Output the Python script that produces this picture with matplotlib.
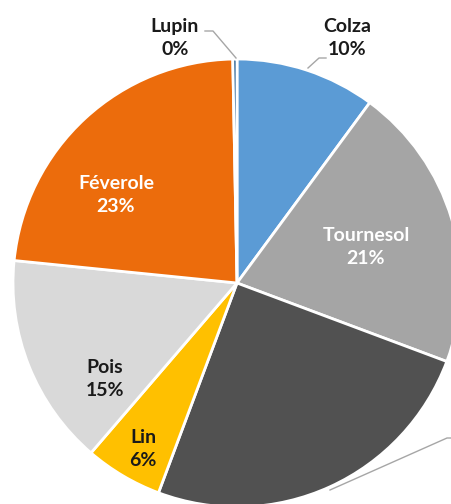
import matplotlib.pyplot as plt

# Data
cultures = ['Colza', 'Tournesol', 'Soja', 'Lin', 'Pois', 'Féverole', 'Lupin']
parts = [10.1, 20.6, 25.0, 5.6, 15.3, 23.1, 0.3]
couleurs = ['#5B9BD5', '#A5A5A5', '#515151', '#FFC000', '#D9D9D9', '#EC6C0C', '#255E91']
txt_col = ['#1a1a1a', 'white', '#1a1a1a', '#1a1a1a', '#1a1a1a', 'white', '#1a1a1a']

# label positions in image pixels (x, y from top); Soja's label lies off the canvas
pos = [(347, 38), (366, 247), None, (143, 449), (105, 379), (116, 195), (175, 38)]

W, H = 452, 504
plt.rcParams['font.family'] = ['Lato', 'DejaVu Sans']
fig = plt.figure(figsize=(W / 100, H / 100), dpi=100)
ax = fig.add_axes([0, 0, 1, 1])

cx, cy, r = 237, H - 283, 224
ax.pie(parts, colors=couleurs, startangle=90, counterclock=False,
       center=(cx, cy), radius=r,
       wedgeprops=dict(edgecolor='white', linewidth=2))
ax.set_xlim(0, W)
ax.set_ylim(0, H)
ax.set_aspect('equal')
ax.axis('off')

for nom, p, xy, c in zip(cultures, parts, pos, txt_col):
    if xy is None:
        continue
    ax.text(xy[0], H - xy[1], f"{nom}\n{round(p):.0f}%", ha='center', va='center',
            fontsize=14, fontweight='bold', color=c, linespacing=1.45)

# leader lines
lc = '#A6A6A6'
ax.plot([308, 319, 326], [H - 68, H - 58, H - 58], color=lc, lw=1)
ax.plot([205, 213, 236], [H - 31, H - 31, H - 58], color=lc, lw=1)
ax.plot([330, 447, 452], [H - 490, H - 438, H - 438], color=lc, lw=1)

fig.savefig('out.png', dpi=100)
